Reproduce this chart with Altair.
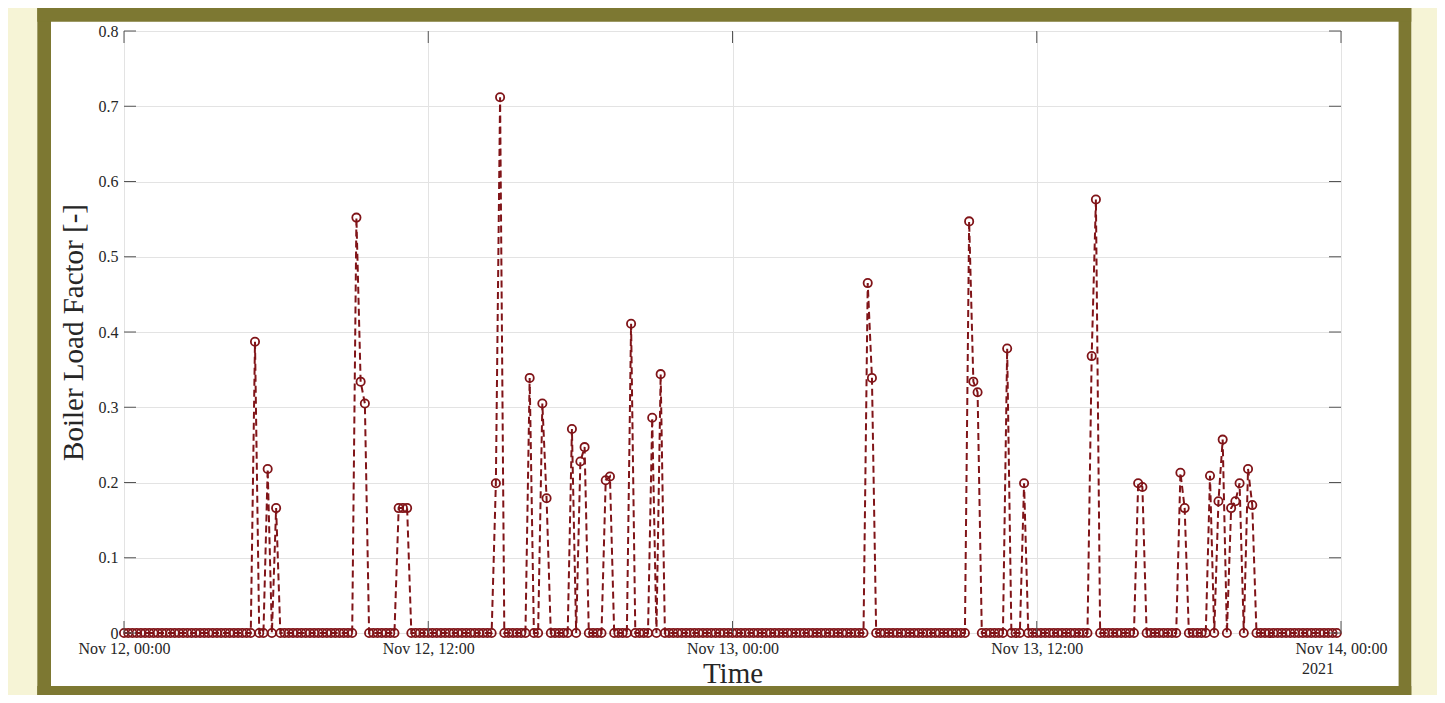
import altair as alt
import pandas as pd

# ---------------- data ----------------
series_start = "2021-11-12 00:00"
series_end = "2021-11-13 23:50"          # 10-minute samples
spike_times = [
    "2021-11-12 05:10", "2021-11-12 05:40", "2021-11-12 06:00",
    "2021-11-12 09:10", "2021-11-12 09:20", "2021-11-12 09:30",
    "2021-11-12 10:50", "2021-11-12 11:00", "2021-11-12 11:10",
    "2021-11-12 14:40", "2021-11-12 14:50",
    "2021-11-12 16:00", "2021-11-12 16:30", "2021-11-12 16:40",
    "2021-11-12 17:40", "2021-11-12 18:00", "2021-11-12 18:10",
    "2021-11-12 19:00", "2021-11-12 19:10", "2021-11-12 20:00",
    "2021-11-12 20:50", "2021-11-12 21:10",
    "2021-11-13 05:20", "2021-11-13 05:30",
    "2021-11-13 09:20", "2021-11-13 09:30", "2021-11-13 09:40",
    "2021-11-13 10:50", "2021-11-13 11:30",
    "2021-11-13 14:10", "2021-11-13 14:20",
    "2021-11-13 16:00", "2021-11-13 16:10",
    "2021-11-13 17:40", "2021-11-13 17:50",
    "2021-11-13 18:50", "2021-11-13 19:10", "2021-11-13 19:20",
    "2021-11-13 19:40", "2021-11-13 19:50", "2021-11-13 20:00",
    "2021-11-13 20:20", "2021-11-13 20:30",
]
spike_values = [
    0.387, 0.218, 0.166,
    0.552, 0.334, 0.305,
    0.166, 0.166, 0.166,
    0.199, 0.712,
    0.339, 0.305, 0.179,
    0.271, 0.228, 0.247,
    0.203, 0.208, 0.411,
    0.286, 0.344,
    0.465, 0.339,
    0.547, 0.334, 0.320,
    0.378, 0.199,
    0.368, 0.576,
    0.199, 0.194,
    0.213, 0.166,
    0.209, 0.175, 0.257,
    0.166, 0.175, 0.199,
    0.218, 0.170,
]
x_tick_times = ["2021-11-12 00:00", "2021-11-12 12:00", "2021-11-13 00:00",
                "2021-11-13 12:00", "2021-11-14 00:00"]
y_ticks = [0, 0.1, 0.2, 0.3, 0.4, 0.5, 0.6, 0.7, 0.8]
year_label = "2021"


def to_ms(ts):
    idx = pd.DatetimeIndex(pd.to_datetime(ts)).tz_localize("UTC")
    return [int(v) for v in (idx.asi8 // 1_000_000)]


times = pd.date_range(series_start, series_end, freq="10min")
load = pd.Series(0.0, index=times)
load.loc[pd.to_datetime(spike_times)] = spike_values
df = pd.DataFrame({"t": to_ms(times), "v": load.values})

xt_ms = to_ms(x_tick_times)
xtick_df = pd.DataFrame({"t": xt_ms})
ytick_df = pd.DataFrame({"v": y_ticks})
year_df = pd.DataFrame({"t": [xt_ms[-1]], "label": [year_label]})

# ---------------- style ----------------
W, H = 1217, 602
PAD = {"left": 116, "top": 23, "right": 96, "bottom": 62}
LINE = "#801418"
AX = "#555555"
TXT = "#262626"
GRID = "#E3E3E3"
OLIVE = "#7D7832"
CREAM = "#F6F4D6"
FONT = "Liberation Serif"
TL = 12  # inward tick length

XS = alt.Scale(type="utc", domain=[xt_ms[0], xt_ms[-1]], nice=False)
YS = alt.Scale(domain=[0, 0.8], nice=False, zero=True)

x_axis = alt.Axis(
    values=xt_ms, labelExpr="utcFormat(datum.value, '%b %d, %H:%M')",
    title="Time", grid=True, gridColor=GRID, domain=False, ticks=False,
    labelPadding=7, labelFlush=False, labelFontSize=16, labelOverlap=False,
    titleFontSize=29, titlePadding=3,
)
y_axis = alt.Axis(
    values=y_ticks, format="~g",
    title="Boiler Load Factor [-]", grid=True, gridColor=GRID, domain=False,
    ticks=False, labelPadding=6, labelFontSize=16,
    titleFontSize=29, titlePadding=10,
)
X = alt.X("t:T", scale=XS, axis=x_axis)
Y = alt.Y("v:Q", scale=YS, axis=y_axis)

# data
line = alt.Chart(df).mark_line(color=LINE, strokeWidth=2, strokeDash=[7, 4]).encode(
    x=X, y=Y)
points = alt.Chart(df).mark_point(shape="circle", filled=False, color=LINE,
                                  size=68, strokeWidth=1.8, opacity=1).encode(x=X, y=Y)

# inward ticks on all four sides
yl = alt.Chart(ytick_df).mark_rule(color=AX, strokeWidth=1).encode(
    y=Y, x=alt.value(0), x2=alt.value(TL))
yr = alt.Chart(ytick_df).mark_rule(color=AX, strokeWidth=1).encode(
    y=Y, x=alt.value(W - TL), x2=alt.value(W))
xb = alt.Chart(xtick_df).mark_rule(color=AX, strokeWidth=1).encode(
    x=X, y=alt.value(H - TL), y2=alt.value(H))
xt = alt.Chart(xtick_df).mark_rule(color=AX, strokeWidth=1).encode(
    x=X, y=alt.value(0), y2=alt.value(TL))

year = alt.Chart(year_df).mark_text(font=FONT, fontSize=16, color=TXT, align="right",
                                    baseline="alphabetic", dx=-7).encode(
    x=X, y=alt.value(642.5), text="label:N")

# decorative page frame: cream margin and olive border strips (outside the axes)
def strip(x0, x1, y0, y1, col):
    return alt.Chart(year_df).mark_rect(color=col).encode(
        x=alt.value(x0), x2=alt.value(x1), y=alt.value(y0), y2=alt.value(y1))

frame = [
    strip(-116, -86.7, -23, 670, CREAM), strip(1287.3, 1320, -23, 670, CREAM),
    strip(-86.7, -73, -23, 668, OLIVE), strip(1274.6, 1287.3, -23, 668, OLIVE),
    strip(-86.7, 1287.3, -23, -9.3, OLIVE), strip(-86.7, 1287.3, 655, 668, OLIVE),
]

chart = alt.layer(
    line, points, yl, yr, xb, xt, year, *frame
).properties(
    width=W, height=H,
    autosize=alt.AutoSizeParams(type="none"),
    padding=PAD,
    background="white",
).configure_view(
    stroke=AX, strokeWidth=1
).configure_axis(
    labelFont=FONT, titleFont=FONT, labelColor=TXT, titleColor=TXT,
    titleFontWeight="normal",
)

chart.save("out.html", embed_options={"renderer": "svg", "actions": False})
